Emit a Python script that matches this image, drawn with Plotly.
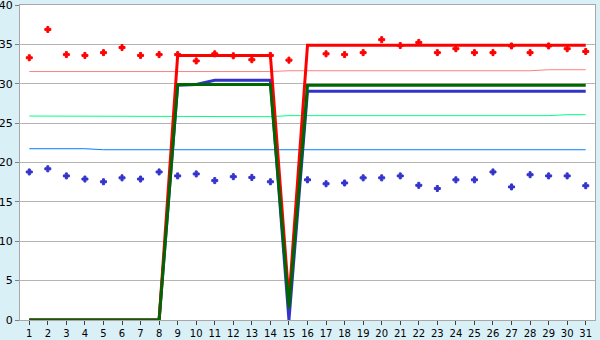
import plotly.graph_objects as go

days = list(range(1, 32))

red_line = [0, 0, 0, 0, 0, 0, 0, 0, 33.6, 33.6, 33.6, 33.6, 33.6, 33.6, 2.5,
            34.9, 34.9, 34.9, 34.9, 34.9, 34.9, 34.9, 34.9, 34.9, 34.9, 34.9, 34.9, 34.9, 34.9, 34.9, 34.9]
green_line = [0, 0, 0, 0, 0, 0, 0, 0, 29.9, 29.9, 29.9, 29.9, 29.9, 29.9, 1.5,
              29.8, 29.8, 29.8, 29.8, 29.8, 29.8, 29.8, 29.8, 29.8, 29.8, 29.8, 29.8, 29.8, 29.8, 29.8, 29.8]
blue_line = [0, 0, 0, 0, 0, 0, 0, 0, 29.8, 29.9, 30.45, 30.45, 30.45, 30.45, 0,
             29.05, 29.05, 29.05, 29.05, 29.05, 29.05, 29.05, 29.05, 29.05, 29.05, 29.05, 29.05, 29.05, 29.05, 29.05, 29.05]

salmon_avg = [31.55, 31.55, 31.55, 31.55, 31.55, 31.55, 31.55, 31.55, 31.55, 31.55, 31.55, 31.55, 31.55, 31.55,
              31.65, 31.65, 31.65, 31.65, 31.65, 31.65, 31.65, 31.65, 31.65, 31.65, 31.65, 31.65, 31.65, 31.65,
              31.78, 31.78, 31.78]
green_avg = [25.9, 25.9, 25.9, 25.9, 25.82, 25.82, 25.82, 25.82, 25.82, 25.82, 25.82, 25.82, 25.82, 25.82,
             25.95, 25.95, 25.95, 25.95, 25.95, 25.95, 25.95, 25.95, 25.95, 25.95, 25.95, 25.95, 25.95, 25.95, 25.95,
             26.07, 26.07]
blue_avg = [21.75, 21.75, 21.75, 21.75, 21.62, 21.62, 21.62, 21.62, 21.62, 21.62, 21.62, 21.62, 21.62, 21.62,
            21.62, 21.62, 21.62, 21.62, 21.62, 21.62, 21.62, 21.62, 21.62, 21.62, 21.62, 21.62, 21.62, 21.62, 21.62,
            21.62, 21.62]

red_pts = [33.3, 36.9, 33.7, 33.6, 33.95, 34.6, 33.6, 33.7, 33.7, 32.9, 33.8, 33.55, 33.05, 33.6, 33.0,
           None, 33.8, 33.7, 33.95, 35.6, 34.85, 35.25, 33.95, 34.45, 33.95, 33.95, 34.8, 33.95, 34.8, 34.45, 34.1]
blue_pts = [18.8, 19.2, 18.3, 17.9, 17.55, 18.05, 17.9, 18.8, 18.3, 18.55, 17.7, 18.2, 18.1, 17.55, None,
            17.8, 17.3, 17.4, 18.05, 18.05, 18.3, 17.1, 16.7, 17.8, 17.8, 18.8, 16.9, 18.45, 18.3, 18.3, 17.05]

y_ticks = [0, 5, 10, 15, 20, 25, 30, 35, 40]

fig = go.Figure()

for vals, col in [(salmon_avg, "#FF8080"), (green_avg, "#00FF80"), (blue_avg, "#0080FF")]:
    fig.add_trace(go.Scatter(x=days, y=vals, mode="lines", line=dict(color=col, width=1)))

fig.add_trace(go.Scatter(x=days, y=blue_line, mode="lines", line=dict(color="#3333CC", width=3)))
fig.add_trace(go.Scatter(x=days, y=red_line, mode="lines", line=dict(color="#FF0000", width=3)))
fig.add_trace(go.Scatter(x=days, y=green_line, mode="lines", line=dict(color="#006600", width=3)))

fig.add_trace(go.Scatter(x=days, y=red_pts, mode="markers",
                         marker=dict(symbol="cross", size=5, color="#FF0000", line=dict(width=1, color="#FF0000"))))
fig.add_trace(go.Scatter(x=days, y=blue_pts, mode="markers",
                         marker=dict(symbol="cross", size=5, color="#3333CC", line=dict(width=1, color="#3333CC"))))

fig.update_layout(
    width=600, height=340,
    margin=dict(l=20, r=5, t=5, b=20, autoexpand=False),
    paper_bgcolor="#DAF0F7",
    plot_bgcolor="#FFFFFF",
    showlegend=False,
    font=dict(family="DejaVu Sans", size=10, color="#000000"),
)
fig.update_xaxes(
    range=[0.5, 31.5], tickmode="array", tickvals=days, ticktext=[str(d) for d in days],
    showgrid=False, zeroline=False, showline=True, linecolor="#A8A8A8", linewidth=1, mirror=True,
    ticks="outside", ticklen=4, tickcolor="#404040", tickfont=dict(size=10),
    automargin=False, ticklabeloverflow="allow",
)
fig.update_yaxes(
    range=[0, 40], tickmode="array", tickvals=y_ticks, ticktext=[str(v) for v in y_ticks],
    showgrid=True, gridcolor="#B4B4B4", gridwidth=1, zeroline=False,
    showline=True, linecolor="#A8A8A8", linewidth=1, mirror=True,
    ticks="outside", ticklen=4, tickcolor="#808080", tickfont=dict(size=11),
    automargin=False, ticklabeloverflow="allow",
)

fig.write_html("out.html")
